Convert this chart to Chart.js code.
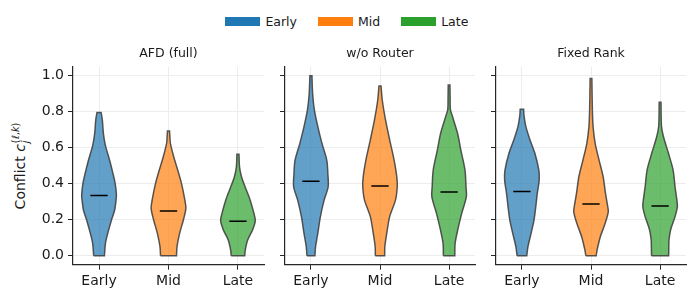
<!DOCTYPE html>
<html>
<head>
<meta charset="utf-8">
<script src="https://cdn.jsdelivr.net/npm/chart.js@4.4.1/dist/chart.umd.min.js"></script>
<style>
  html, body { margin: 0; padding: 0; background: #fff; }
  body { width: 698px; height: 301px; position: relative; overflow: hidden; font-family: 'DejaVu Sans', sans-serif; }
  .pane { position: absolute; top: 0; }
  #legend { position: absolute; left: 225px; top: 14px; display: flex; align-items: center; font-size: 12.5px; color: #1a1a1a; white-space: nowrap; }
  .item { display: flex; align-items: center; margin-right: 20.6px; }
  .box { width: 35px; height: 9px; margin-right: 5.4px; }
  #ylab { position: absolute; left: 21px; top: 166px; transform: translate(-50%, -50%) rotate(-90deg); font-size: 14px; color: #1a1a1a; white-space: nowrap; }
  #ylab .ss { display: inline-block; font-size: 0.7em; line-height: 1.05; vertical-align: -0.45em; margin-left: 1px; }
  #ylab .ss span { display: block; }
</style>
</head>
<body>
<div id="legend"></div>
<div id="ylab">Conflict <i>c</i><span class="ss"><span>(<i>ℓ</i>,<i>k</i>)</span><span><i>j</i></span></span></div>
<canvas id="c1" class="pane" width="270" height="301" style="left:0px;width:270px;height:301px"></canvas>
<canvas id="c2" class="pane" width="210" height="301" style="left:270px;width:210px;height:301px"></canvas>
<canvas id="c3" class="pane" width="218" height="301" style="left:480px;width:218px;height:301px"></canvas>
<script>
// ---------- data ----------
const categories = ['Early', 'Mid', 'Late'];
const panelTitles = ['AFD (full)', 'w/o Router', 'Fixed Rank'];
const yTicks = [0.0, 0.2, 0.4, 0.6, 0.8, 1.0];
const seriesColors = ['#1f77b4', '#ff7f0e', '#2ca02c'];

// violin profiles: [conflict value, relative density width]
const afdEarly = [[0, 0.31], [0.07, 0.37], [0.124, 0.5], [0.2, 0.72], [0.254, 0.9], [0.31, 0.98], [0.34, 1.0], [0.40, 0.93], [0.457, 0.8], [0.53, 0.61], [0.596, 0.41], [0.624, 0.34], [0.68, 0.25], [0.754, 0.19], [0.795, 0.12]];
const afdMid = [[0, 0.46], [0.05, 0.49], [0.124, 0.64], [0.2, 0.86], [0.263, 1.0], [0.31, 0.94], [0.4, 0.75], [0.476, 0.53], [0.55, 0.3], [0.624, 0.11], [0.66, 0.08], [0.693, 0.06]];
const afdLate = [[0, 0.39], [0.031, 0.42], [0.087, 0.56], [0.143, 0.84], [0.194, 1.0], [0.235, 0.92], [0.31, 0.7], [0.383, 0.41], [0.44, 0.2], [0.494, 0.09], [0.563, 0.06]];

const noRouterEarly = [[0, 0.23], [0.05, 0.27], [0.124, 0.4], [0.217, 0.55], [0.31, 0.77], [0.383, 1.0], [0.457, 0.98], [0.53, 0.92], [0.624, 0.64], [0.717, 0.4], [0.81, 0.2], [0.9, 0.1], [1.0, 0.06]];
const noRouterMid = [[0, 0.27], [0.05, 0.28], [0.124, 0.39], [0.217, 0.56], [0.31, 0.9], [0.387, 1.0], [0.44, 0.97], [0.53, 0.82], [0.643, 0.56], [0.754, 0.32], [0.865, 0.13], [0.943, 0.06]];
const noRouterLate = [[0, 0.33], [0.069, 0.35], [0.143, 0.5], [0.235, 0.73], [0.328, 1.0], [0.383, 0.98], [0.476, 0.92], [0.587, 0.68], [0.68, 0.49], [0.772, 0.2], [0.81, 0.08], [0.88, 0.06], [0.948, 0.05]];

const fixedEarly = [[0, 0.28], [0.05, 0.35], [0.124, 0.53], [0.198, 0.7], [0.27, 0.8], [0.346, 0.89], [0.42, 1.0], [0.476, 0.98], [0.569, 0.75], [0.643, 0.47], [0.717, 0.23], [0.78, 0.12], [0.813, 0.1]];
const fixedMid = [[0, 0.3], [0.03, 0.35], [0.105, 0.54], [0.18, 0.82], [0.244, 1.0], [0.272, 0.97], [0.346, 0.84], [0.44, 0.7], [0.53, 0.47], [0.624, 0.24], [0.717, 0.12], [0.81, 0.08], [0.985, 0.05]];
const fixedLate = [[0, 0.48], [0.05, 0.49], [0.087, 0.5], [0.143, 0.59], [0.217, 0.84], [0.272, 0.97], [0.31, 0.94], [0.383, 0.84], [0.476, 0.73], [0.569, 0.47], [0.661, 0.19], [0.717, 0.08], [0.852, 0.05]];

// medians per panel (Early, Mid, Late)
const afdMedians = [0.335, 0.248, 0.191];
const noRouterMedians = [0.413, 0.387, 0.354];
const fixedMedians = [0.356, 0.287, 0.276];

// ---------- style ----------
const FONT = "'DejaVu Sans', sans-serif";
const INK = '#1a1a1a';
const violinHalf = 0.25;
const medianHalf = 0.125;

function hexA(hex, a) {
  const n = parseInt(hex.slice(1), 16);
  return `rgba(${(n >> 16) & 255},${(n >> 8) & 255},${n & 255},${a})`;
}

function violinPath(prof, pos) {
  const maxW = Math.max(...prof.map(p => p[1]));
  const L = prof.map(p => ({x: pos - violinHalf * p[1] / maxW, y: p[0]}));
  const R = prof.map(p => ({x: pos + violinHalf * p[1] / maxW, y: p[0]}));
  const n = prof.length - 1;
  const pts = [];
  for (let i = 0; i <= n; i++) pts.push(L[i]);
  pts.push(L[n]);
  pts.push(R[n]);
  for (let i = n; i >= 0; i--) pts.push(R[i]);
  pts.push(R[0]);
  pts.push(L[0]);
  return pts;
}

function makeChart(id, title, profiles, medians, opts) {
  const datasets = [];
  medians.forEach((m, i) => {
    datasets.push({
      data: [{x: i - medianHalf, y: m}, {x: i + medianHalf, y: m}],
      borderColor: '#000', borderWidth: 1.5, pointRadius: 0, fill: false, tension: 0, order: 0
    });
  });
  profiles.forEach((prof, i) => {
    datasets.push({
      data: violinPath(prof, i),
      borderColor: 'rgba(64,64,64,0.88)', borderWidth: 1.5,
      backgroundColor: hexA(seriesColors[i], 0.7),
      fill: 'shape', pointRadius: 0, tension: 0.3, order: 1
    });
  });
  return new Chart(document.getElementById(id), {
    type: 'line',
    data: { datasets },
    options: {
      responsive: false, animation: false, events: [],
      layout: { padding: { top: 46, right: opts.padRight, left: 0, bottom: 0 } },
      plugins: {
        legend: { display: false }, tooltip: { enabled: false },
        title: { display: true, text: title, fullSize: false, color: INK,
                 font: { family: FONT, size: 12.5, weight: 'normal' },
                 padding: { top: 0, bottom: 5.7 } }
      },
      scales: {
        x: {
          type: 'linear', min: -0.375, max: 2.375,
          afterBuildTicks: s => { s.ticks = categories.map((c, i) => ({ value: i })); },
          afterFit: s => { s.height = 36.3; },
          ticks: { callback: v => categories[v], color: INK, font: { family: FONT, size: 14 }, padding: 3, maxRotation: 0, autoSkip: false },
          grid: { color: '#ededed', lineWidth: 1, tickLength: 5, tickColor: '#262626', tickWidth: 1 },
          border: { color: '#262626', width: 1.2 }
        },
        y: {
          type: 'linear', min: -0.05, max: 1.05,
          afterBuildTicks: s => { s.ticks = yTicks.map(v => ({ value: v })); },
          afterFit: s => { s.width = opts.yWidth; },
          ticks: { display: opts.labels, callback: v => v.toFixed(1), color: INK, font: { family: FONT, size: 14 }, padding: 4 },
          grid: { color: '#ededed', lineWidth: 1, tickLength: 5, tickColor: '#262626', tickWidth: 1 },
          border: { color: '#262626', width: 1.2 }
        }
      }
    }
  });
}

makeChart('c1', panelTitles[0], [afdEarly, afdMid, afdLate], afdMedians, { yWidth: 73, padRight: 6, labels: true });
makeChart('c2', panelTitles[1], [noRouterEarly, noRouterMid, noRouterLate], noRouterMedians, { yWidth: 15, padRight: 5, labels: false });
makeChart('c3', panelTitles[2], [fixedEarly, fixedMid, fixedLate], fixedMedians, { yWidth: 16, padRight: 12, labels: false });

// legend
const lg = document.getElementById('legend');
categories.forEach((c, i) => {
  const it = document.createElement('div');
  it.className = 'item';
  const b = document.createElement('span');
  b.className = 'box';
  b.style.background = seriesColors[i];
  const t = document.createElement('span');
  t.textContent = c;
  it.appendChild(b); it.appendChild(t);
  lg.appendChild(it);
});
</script>
</body>
</html>
